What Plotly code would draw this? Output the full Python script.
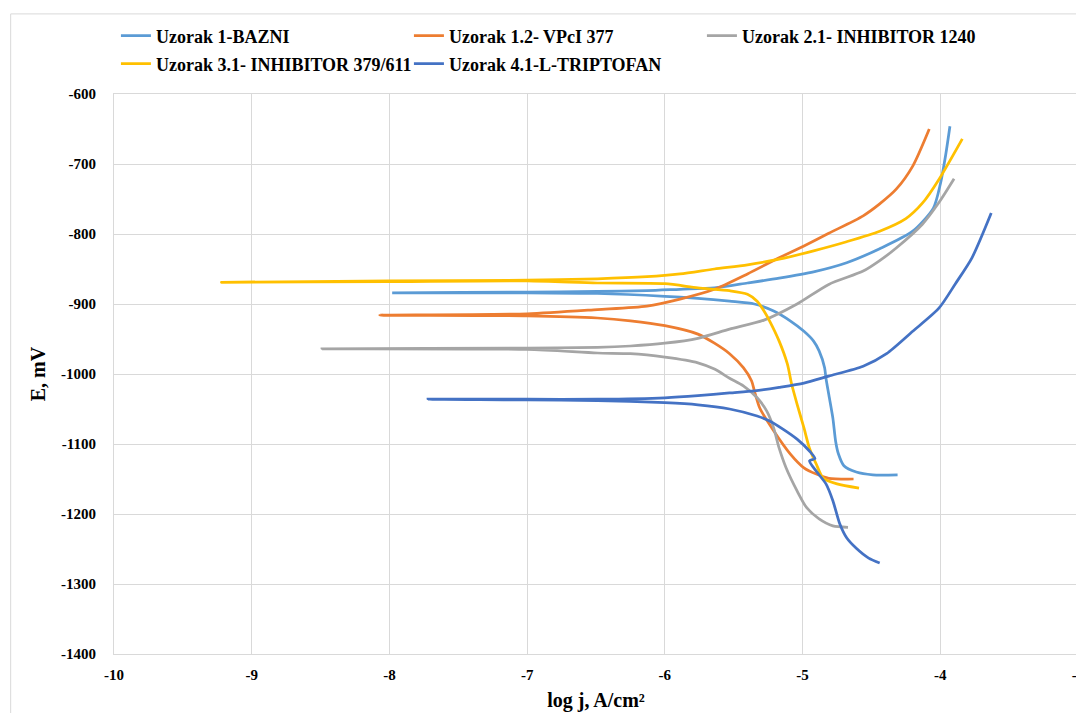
import plotly.graph_objects as go

# ---- data (log j, E in mV); each series runs cathodic end -> corrosion potential -> anodic end
names = ["Uzorak 1-BAZNI", "Uzorak 1.2- VPcI 377", "Uzorak 2.1- INHIBITOR 1240",
         "Uzorak 3.1- INHIBITOR 379/611", "Uzorak 4.1-L-TRIPTOFAN"]
colors = ["#5B9BD5", "#ED7D31", "#A5A5A5", "#FFC000", "#4472C4"]

bazni_x = [-4.31, -4.49, -4.61, -4.70, -4.74, -4.76, -4.78, -4.81, -4.83, -4.84, -4.88, -4.92, -4.99,
           -5.09, -5.21, -5.35, -5.53, -5.76, -6.0, -6.49, -7.0, -7.98,
           -7.0, -6.49, -6.13, -5.89, -5.64, -5.40, -5.17, -4.92, -4.68, -4.44, -4.20, -4.05, -4.00, -3.96, -3.93]
bazni_y = [-1144, -1144, -1140, -1131, -1114, -1096, -1063, -1029, -1006, -991, -967, -953, -939,
           -924, -910, -900, -896, -892, -889, -885, -884, -884,
           -883, -882, -881, -879, -877, -870, -863, -854, -841, -821, -796, -763, -729, -686, -646]

vpci_x = [-4.63, -4.81, -4.90, -4.99, -5.09, -5.21, -5.31, -5.35, -5.37, -5.43, -5.53, -5.64, -5.76,
          -6.0, -6.25, -6.49, -7.0, -8.07,
          -7.0, -6.49, -6.13, -5.89, -5.64, -5.40, -5.17, -4.99, -4.81, -4.56, -4.44, -4.32, -4.20, -4.08]
vpci_y = [-1150, -1149, -1143, -1134, -1114, -1081, -1049, -1024, -1010, -991, -971, -956, -943,
          -931, -924, -920, -917, -916,
          -914, -908, -903, -893, -879, -857, -834, -817, -799, -774, -757, -736, -703, -650]

inh1240_x = [-4.67, -4.78, -4.88, -4.97, -5.04, -5.12, -5.17, -5.21, -5.26, -5.33, -5.43, -5.53, -5.64,
             -5.76, -6.0, -6.25, -6.49, -7.0, -8.49,
             -7.0, -6.49, -6.25, -6.0, -5.76, -5.53, -5.28, -5.04, -4.81, -4.56, -4.44, -4.32, -4.13, -4.01, -3.90]
inh1240_y = [-1219, -1217, -1207, -1191, -1167, -1134, -1106, -1077, -1053, -1034, -1017, -1006, -993,
             -984, -976, -971, -970, -965, -964,
             -963, -962, -960, -956, -949, -936, -923, -900, -872, -853, -838, -820, -786, -755, -721]

inh379_x = [-4.59, -4.75, -4.85, -4.90, -4.95, -4.99, -5.04, -5.08, -5.11, -5.17, -5.24, -5.28, -5.33,
            -5.40, -5.53, -5.76, -6.0, -6.49, -7.0, -8.0, -9.22,
            -8.0, -7.0, -6.49, -6.13, -5.89, -5.64, -5.40, -5.17, -4.92, -4.68, -4.44, -4.25, -4.13, -4.01, -3.84]
inh379_y = [-1163, -1157, -1149, -1129, -1106, -1077, -1043, -1014, -986, -953, -924, -910, -896,
            -886, -881, -877, -871, -870, -867, -868, -869,
            -867, -866, -864, -861, -857, -850, -844, -836, -824, -811, -796, -778, -756, -722, -664]

trip_x = [-4.44, -4.52, -4.61, -4.68, -4.73, -4.78, -4.83, -4.90, -4.95, -4.91, -4.95, -5.04, -5.14,
          -5.24, -5.33, -5.53, -5.76, -6.0, -6.49, -7.0, -7.72,
          -7.0, -6.49, -6.0, -5.76, -5.53, -5.35, -5.17, -4.99, -4.81, -4.56, -4.39, -4.20, -4.01, -3.89, -3.77, -3.63]
trip_y = [-1270, -1263, -1249, -1234, -1214, -1181, -1157, -1139, -1124, -1121, -1110, -1093, -1079,
          -1067, -1060, -1050, -1044, -1041, -1038, -1037, -1036,
          -1036, -1036, -1034, -1031, -1027, -1024, -1019, -1013, -1003, -989, -971, -939, -906, -871, -834, -770]

series_x = [bazni_x, vpci_x, inh1240_x, inh379_x, trip_x]
series_y = [bazni_y, vpci_y, inh1240_y, inh379_y, trip_y]
legend_of = ["legend", "legend", "legend", "legend2", "legend2"]

x_ticks = [-10, -9, -8, -7, -6, -5, -4, -3]
y_ticks = [-1400, -1300, -1200, -1100, -1000, -900, -800, -700, -600]

FONT = "Liberation Serif"

fig = go.Figure()
for nm, col, xs, ys, lg in zip(names, colors, series_x, series_y, legend_of):
    fig.add_trace(go.Scatter(x=xs, y=ys, mode="lines", name=nm, legend=lg,
                             line=dict(color=col, width=2.75, shape="spline", smoothing=0.7)))

legend_common = dict(orientation="h", xanchor="left", yanchor="middle",
                     font=dict(family=FONT, size=18, color="#000000", weight="bold"),
                     bgcolor="rgba(0,0,0,0)", entrywidth=248, entrywidthmode="pixels",
                     borderwidth=0)

fig.update_layout(
    width=1084, height=713,
    margin=dict(l=106, r=8, t=86, b=67),
    paper_bgcolor="white", plot_bgcolor="white",
    font=dict(family=FONT, size=14, color="#000000"),
    legend=dict(x=0.002, y=1.1036, **legend_common),
    legend2=dict(x=0.002, y=1.0536, **legend_common),
    xaxis=dict(range=[-10, -3], tickvals=x_ticks, ticktext=[str(v) for v in x_ticks],
               showgrid=True, gridcolor="#D9D9D9", gridwidth=1, zeroline=False,
               showline=True, linecolor="#D9D9D9", mirror=True,
               tickfont=dict(family=FONT, size=15, color="#000000", weight="bold"),
               ticklabelstandoff=7,
               title=dict(text="log j, A/cm²", standoff=10,
                          font=dict(family=FONT, size=20, color="#000000", weight="bold"))),
    yaxis=dict(range=[-1400, -600], tickvals=y_ticks, ticktext=[str(v) for v in y_ticks],
               showgrid=True, gridcolor="#D9D9D9", gridwidth=1, zeroline=False,
               showline=True, linecolor="#D9D9D9", mirror=True,
               tickfont=dict(family=FONT, size=15, color="#000000", weight="bold"),
               ticklabelstandoff=14,
               title=dict(text="E, mV", standoff=10,
                          font=dict(family=FONT, size=20, color="#000000", weight="bold"))),
    shapes=[dict(type="rect", xref="paper", yref="paper", x0=-0.1072, x1=1.02, y0=-0.2, y1=1.143,
                 line=dict(color="#D9D9D9", width=1), fillcolor="rgba(0,0,0,0)", layer="below")],
)

fig.write_html("out.html")
